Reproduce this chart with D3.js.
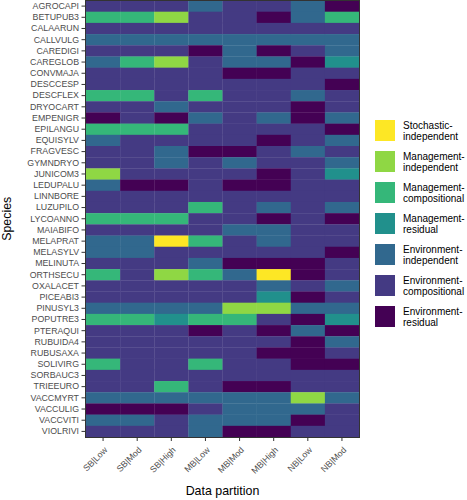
<!DOCTYPE html>
<html>
<head>
<meta charset="utf-8">
<script src="https://cdn.jsdelivr.net/npm/d3@7"></script>
<style>
  html, body { margin: 0; padding: 0; background: #fff; }
  svg { display: block; font-family: "Liberation Sans", Arial, sans-serif; }
</style>
</head>
<body>
<svg id="chart" width="467" height="500"></svg>
<script>
// ---- DATA ----
const partitions = ["SB|Low", "SB|Mod", "SB|High", "MB|Low", "MB|Mod", "MB|High", "NB|Low", "NB|Mod"];

const components = [
  "Stochastic-independent",
  "Management-independent",
  "Management-compositional",
  "Management-residual",
  "Environment-independent",
  "Environment-compositional",
  "Environment-residual"
];
// one-letter codes used in the cell strings below (same order as components)
const componentCodes = ["Y", "L", "G", "T", "B", "P", "D"];

const species = [
  "AGROCAPI", "BETUPUB3", "CALAARUN", "CALLVULG", "CAREDIGI", "CAREGLOB", "CONVMAJA",
  "DESCCESP", "DESCFLEX", "DRYOCART", "EMPENIGR", "EPILANGU", "EQUISYLV", "FRAGVESC",
  "GYMNDRYO", "JUNICOM3", "LEDUPALU", "LINNBORE", "LUZUPILO", "LYCOANNO", "MAIABIFO",
  "MELAPRAT", "MELASYLV", "MELINUTA", "ORTHSECU", "OXALACET", "PICEABI3", "PINUSYL3",
  "POPUTRE3", "PTERAQUI", "RUBUIDA4", "RUBUSAXA", "SOLIVIRG", "SORBAUC3", "TRIEEURO",
  "VACCMYRT", "VACCULIG", "VACCVITI", "VIOLRIVI"
];

// dominant component per species (row) and partition (8 columns)
const dominant = [
  "PPPBPPBD", "GGLPPDBG", "PPPPPPPP", "BBBBBBBB", "PPPDBDPB", "BGLPBBDT", "PPPPDDPP",
  "PPPPPPPD", "GGPGPPBP", "PPBPPPDP", "DPDBPBDB", "GGGPPPPD", "BPPPPDPB", "PPBDDPBP",
  "PPBPBPPB", "LPPPPDPT", "BDDPDDPP", "PPPPPPPP", "PPPGPBPB", "GGGPPDPD", "PPPPBBPP",
  "BBYGPBPP", "BBPPPPPD", "PPPBDDDP", "GPLGBYDP", "PPPPPBPB", "PPPPPTDP", "BBBBLLBB",
  "GGTGGPDT", "PPPDPDBD", "PPPPPPDB", "PPPPPDDP", "GPPGPPDD", "PPPPPPPP", "PPGPDDPP",
  "BBBBBBLB", "DDDPBBBP", "BBPBBBDP", "PPPBDDPP"
];

// ---- STYLE ----
const palette = ["#FDE725", "#8FD744", "#35B779", "#21908C", "#31688E", "#443A83", "#440154"];

const cells = [];
species.forEach((sp, i) => {
  dominant[i].split("").forEach((code, j) => {
    cells.push({ species: sp, partition: partitions[j], component: components[componentCodes.indexOf(code)] });
  });
});

const svg = d3.select("#chart");
const panel = { left: 86, right: 359, top: 0.5, bottom: 437 };

const x = d3.scaleBand().domain(partitions).range([panel.left, panel.right]).padding(0);
const y = d3.scaleBand().domain(species).range([panel.top, panel.bottom]).padding(0);
const color = d3.scaleOrdinal().domain(components).range(palette);

// tiles
svg.append("g")
  .selectAll("rect")
  .data(cells)
  .join("rect")
  .attr("x", d => x(d.partition))
  .attr("y", d => y(d.species))
  .attr("width", x.bandwidth() + 0.3)
  .attr("height", y.bandwidth() + 0.3)
  .attr("fill", d => color(d.component));

// panel border
svg.append("rect")
  .attr("x", panel.left - 0.5)
  .attr("y", panel.top)
  .attr("width", panel.right - panel.left + 1)
  .attr("height", panel.bottom - panel.top + 0.5)
  .attr("fill", "none")
  .attr("stroke", "#333333")
  .attr("stroke-width", 1);

const tickFont = 8.8;

// y axis
const yAxis = svg.append("g")
  .attr("transform", `translate(${panel.left - 1},0)`)
  .call(d3.axisLeft(y).tickSize(3.5).tickPadding(2.5))
  .attr("font-size", tickFont)
  .attr("font-family", "Liberation Sans, Arial, sans-serif");
yAxis.select(".domain").remove();
yAxis.selectAll(".tick line").attr("stroke", "#333333");
yAxis.selectAll(".tick text").attr("fill", "#4D4D4D");

// x axis
const xAxis = svg.append("g")
  .attr("transform", `translate(0,${panel.bottom + 0.5})`)
  .call(d3.axisBottom(x).tickSize(3.5).tickPadding(2))
  .attr("font-size", tickFont)
  .attr("font-family", "Liberation Sans, Arial, sans-serif");
xAxis.select(".domain").remove();
xAxis.selectAll(".tick line").attr("stroke", "#333333");
xAxis.selectAll(".tick text")
  .attr("fill", "#4D4D4D")
  .attr("text-anchor", "end")
  .attr("y", 0)
  .attr("dy", 0)
  .attr("transform", "translate(5,13) rotate(-45)");

// axis titles
svg.append("text")
  .attr("x", (panel.left + panel.right) / 2)
  .attr("y", 495)
  .attr("text-anchor", "middle")
  .attr("font-size", 12.4)
  .attr("fill", "#000")
  .text("Data partition");

svg.append("text")
  .attr("transform", `translate(11,${(panel.top + panel.bottom) / 2}) rotate(-90)`)
  .attr("text-anchor", "middle")
  .attr("font-size", 12.4)
  .attr("fill", "#000")
  .text("Species");

// legend
const legend = svg.append("g").attr("transform", "translate(375,120)");
const item = legend.selectAll("g")
  .data(components)
  .join("g")
  .attr("transform", (d, i) => `translate(0,${i * 31})`);
item.append("rect")
  .attr("width", 20)
  .attr("height", 21)
  .attr("fill", d => color(d));
item.each(function(d) {
  const parts = d.split("-");
  const t = d3.select(this).append("text")
    .attr("x", 28)
    .attr("font-size", 10)
    .attr("fill", "#000");
  t.append("tspan").attr("x", 28).attr("y", 9).text(parts[0] + "-");
  t.append("tspan").attr("x", 28).attr("y", 20).text(parts[1]);
});
</script>
</body>
</html>
